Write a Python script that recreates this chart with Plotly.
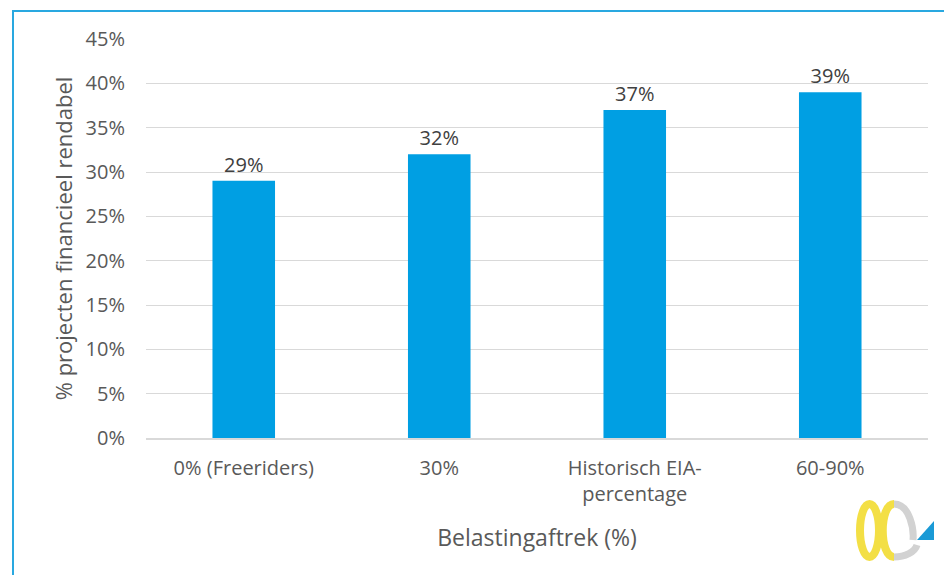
import plotly.graph_objects as go

categories = ["0% (Freeriders)", "30%", "Historisch EIA-<br>percentage", "60-90%"]
values = [29, 32, 37, 39]
value_labels = ["29%", "32%", "37%", "39%"]
y_ticks = [0, 5, 10, 15, 20, 25, 30, 35, 40, 45]
y_ticklabels = [f"{v}%" for v in y_ticks]

W, H = 944, 575
L, R, T, B = 146, 16, 39, 137
PW, PH = W - L - R, H - T - B

def px(x):
    return (x - L) / PW

def py(y):
    return (H - B - y) / PH

font = "'Open Sans', sans-serif"
grey = "#595959"

fig = go.Figure(go.Bar(
    x=categories, y=values, text=value_labels, textposition="outside",
    marker=dict(color="#009FE3", line=dict(width=0)), width=0.32,
    textfont=dict(size=20, color="#404040", family=font),
    cliponaxis=False, hoverinfo="skip",
))

shapes = [
    # outer blue frame
    dict(type="path", xref="paper", yref="paper",
         path=f"M {px(13)},{py(1000)} L {px(13)},{py(11)} L {px(1000)},{py(11)}",
         line=dict(color="#29A8E0", width=2)),
    # logo approximation
    dict(type="circle", xref="paper", yref="paper",
         x0=px(860), x1=px(879), y0=py(504), y1=py(557),
         line=dict(color="#F3DF45", width=8)),
    dict(type="path", xref="paper", yref="paper",
         path=(f"M {px(894)},{py(504)} C {px(879)},{py(504)} {px(879)},{py(557)} {px(894)},{py(557)}"),
         line=dict(color="#F3DF45", width=8)),
    dict(type="path", xref="paper", yref="paper",
         path=(f"M {px(894)},{py(504)} C {px(910)},{py(504)} {px(914)},{py(530)} {px(913)},{py(540)} "
               f"M {px(894)},{py(557)} C {px(905)},{py(557)} {px(915)},{py(552)} {px(917)},{py(545)}"),
         line=dict(color="#D2D2D2", width=7)),
    dict(type="path", xref="paper", yref="paper",
         path=f"M {px(917)},{py(540)} L {px(934)},{py(540)} L {px(934)},{py(521)} Z",
         fillcolor="#1A9AD6", line=dict(width=0)),
]

fig.update_layout(
    width=W, height=H,
    margin=dict(l=L, r=R, t=T, b=B, autoexpand=False),
    paper_bgcolor="white", plot_bgcolor="white",
    showlegend=False,
    font=dict(family=font, color=grey, size=20),
    xaxis=dict(
        showgrid=False, showline=True, linecolor="#D9D9D9", linewidth=1.5,
        ticks="", tickfont=dict(size=20, color=grey), ticklabelstandoff=11,
        title=dict(text="Belastingaftrek (%)", font=dict(size=23, color=grey), standoff=24),
        fixedrange=True,
    ),
    yaxis=dict(
        range=[0, 45], tickvals=y_ticks, ticktext=y_ticklabels,
        showgrid=True, gridcolor="#D9D9D9", gridwidth=1, zeroline=False,
        showline=False, ticks="", tickfont=dict(size=20, color=grey),
        ticklabelstandoff=20,
        title=dict(text="% projecten financieel rendabel", font=dict(size=22, color=grey), standoff=6),
        fixedrange=True,
    ),
    shapes=shapes,
)

fig.write_html("out.html", config={"displayModeBar": False},
               post_script="document.body.style.margin='0';")
